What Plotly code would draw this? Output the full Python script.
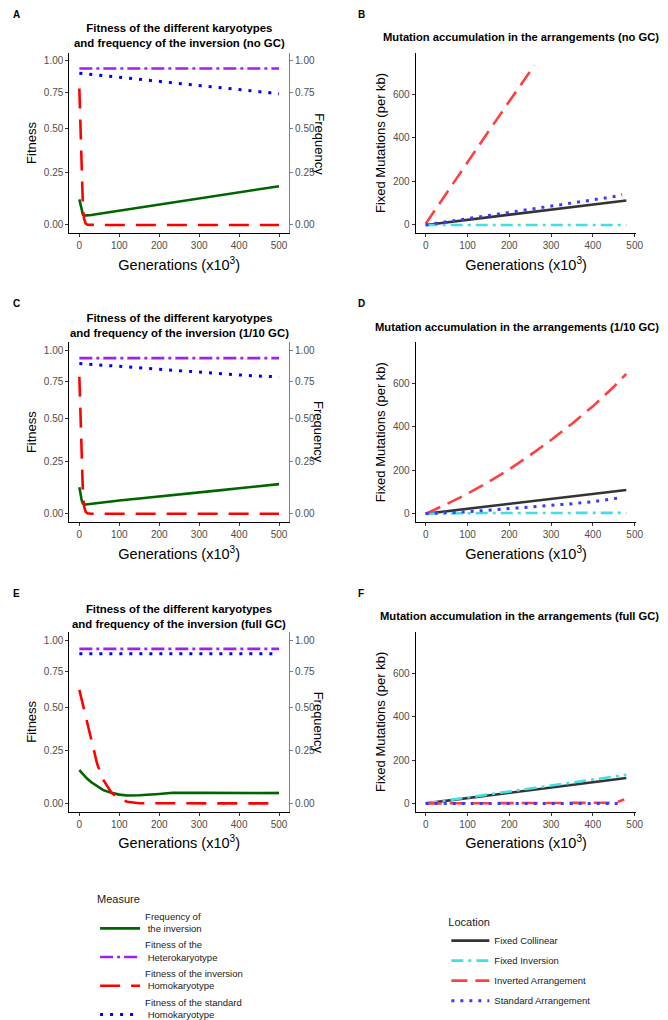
import numpy as np
import plotly.graph_objects as go

W, H = 668, 1020

# ---------------- data ----------------
# fitness panels (A, C, E) - generations in x10^3
gen_early = [0, 3, 6, 9, 12, 16, 20, 30, 50, 100, 150, 200, 250, 300, 350, 400, 450, 500]
gen_coarse = [0, 50, 100, 150, 200, 250, 300, 350, 400, 450, 500]

A_freq = [0.114, 0.085, 0.060, 0.045, 0.040, 0.040, 0.041, 0.043, 0.048, 0.062, 0.074, 0.088,
          0.102, 0.117, 0.132, 0.147, 0.162, 0.178]
A_inv = [0.78, 0.50, 0.22, 0.08, 0.025, 0.006, 0.001, 0, 0, 0, 0, 0, 0, 0, 0, 0, 0, 0]
A_het = [0.937] * 11
A_std = [0.899, 0.882, 0.866, 0.850, 0.834, 0.818, 0.802, 0.786, 0.771, 0.756, 0.741]

C_freq = [0.119, 0.085, 0.058, 0.044, 0.040, 0.040, 0.041, 0.043, 0.047, 0.058, 0.067, 0.0755,
          0.085, 0.095, 0.104, 0.114, 0.124, 0.134]
C_inv = [0.79, 0.52, 0.24, 0.09, 0.03, 0.008, 0.002, 0, 0, 0, 0, 0, 0, 0, 0, 0, 0, 0]
C_het = [0.937] * 11
C_std = [0.893, 0.881, 0.870, 0.858, 0.847, 0.836, 0.826, 0.815, 0.803, 0.795, 0.788]

gen_E = [0, 10, 20, 30, 45, 60, 80, 100, 120, 150, 200, 234, 300, 350, 400, 450, 500]
E_freq = [0.152, 0.130, 0.110, 0.094, 0.074, 0.058, 0.046, 0.038, 0.034, 0.035, 0.041, 0.046,
          0.046, 0.045, 0.044, 0.044, 0.045]
E_freq_se = [0.008, 0.006, 0.005, 0.005, 0.004, 0.004, 0.004, 0.004, 0.004, 0.004, 0.004, 0.004,
             0.004, 0.004, 0.005, 0.006, 0.008]
E_inv = [0.62, 0.51, 0.40, 0.30, 0.18, 0.105, 0.048, 0.02, 0.007, 0.001, 0, 0, 0, 0, 0, 0, 0]
E_het = [0.928] * 11
E_std = [0.888] * 11

# mutation panels (B, D, F)
gen_mut = [0, 50, 100, 150, 200, 250, 300, 350, 400, 450, 480]
gen_dot = [0, 50, 100, 150, 200, 250, 300, 350, 400, 450, 470]

B_col = [0, 11.6, 23.3, 35, 46.6, 58, 70, 81.5, 93, 105, 112]
B_fix = [0, 0, 0, 0, 0, 0, 0, 0, 0, 0, 0]
gen_inv_B = [0, 50, 100, 150, 200, 260]
B_inv = [5, 148, 288, 428, 567, 732]
B_std = [0, 14, 28, 43, 58, 72, 86, 100, 115, 130, 139]

D_col = [0, 11.4, 22.7, 34, 45.4, 56.8, 68, 79.5, 91, 102, 109]
D_fix = [0, 2, 3, 3, 3, 3.5, 4, 4, 4, 4, 4]
D_inv = [0, 44, 92, 146, 205, 270, 340, 415, 495, 585, 645]
D_std = [0, 4, 9, 16, 23, 30, 38, 46, 55, 67, 75]

F_col = [0, 12, 24, 36, 48.5, 61, 73, 85, 97, 110, 117]
F_fix = [0, 13.8, 27.5, 41, 55, 69, 82.5, 96, 110, 124, 132]
gen_inv_F = [0, 100, 200, 300, 400, 420, 440, 460, 475]
F_inv = [0, 0, 0, 0, 0, 1, 3, 8, 18]
F_std = [0] * 11

fit_ticks = [0, 0.25, 0.5, 0.75, 1.0]
fit_ticktext = ["0.00", "0.25", "0.50", "0.75", "1.00"]
gen_ticks = [0, 100, 200, 300, 400, 500]
mut_ticks = [0, 200, 400, 600]

measure_names = ["Frequency of<br>\u00a0the inversion", "Fitness of the<br>\u00a0Heterokaryotype",
                 "Fitness of the inversion<br>\u00a0Homokaryotype", "Fitness of the standard<br>\u00a0Homokaryotype"]
location_names = ["Fixed Collinear", "Fixed Inversion", "Inverted Arrangement", "Standard Arrangement"]

# ---------------- styling ----------------
FONT = "Liberation Sans, Arial, sans-serif"
m_style = [
    dict(color="#006400", width=2.6, dash="solid"),
    dict(color="#A020F0", width=2.6, dash="13px,4px,3px,4px"),
    dict(color="#FF0000", width=2.6, dash="20px,11px"),
    dict(color="#0000FF", width=3, dash="3px,7px"),
]
l_style = [
    dict(color="#333333", width=2.6, dash="solid"),
    dict(color="#40E0E6", width=2.6, dash="12px,5px,3px,5px"),
    dict(color="#FF4040", width=2.6, dash="16px,8px"),
    dict(color="#3A3AFF", width=3, dash="3px,6px"),
]


def t(v):
    # panels A, C, E use a log1p-transformed fitness / frequency axis
    return np.log1p(np.asarray(v, dtype=float))


fig = go.Figure()


def fit_panel(xa, ya, ya_right, freq, inv, het, std, gen_fast, show, se=None):
    if se is not None:
        lo = np.asarray(freq) - np.asarray(se)
        hi = np.asarray(freq) + np.asarray(se)
        fig.add_trace(go.Scatter(x=gen_fast, y=t(lo), mode="lines", line=dict(width=0),
                                 xaxis=xa, yaxis=ya, showlegend=False, hoverinfo="skip"))
        fig.add_trace(go.Scatter(x=gen_fast, y=t(hi), mode="lines", line=dict(width=0),
                                 fill="tonexty", fillcolor="rgba(160,160,160,0.45)",
                                 xaxis=xa, yaxis=ya, showlegend=False, hoverinfo="skip"))
    series = [(gen_fast, freq), (gen_coarse, het), (gen_fast, inv), (gen_coarse, std)]
    for i, (gx, vals) in enumerate(series):
        fig.add_trace(go.Scatter(x=gx, y=t(vals), mode="lines", name=measure_names[i],
                                 line=m_style[i], xaxis=xa, yaxis=ya,
                                 legend="legend", legendgroup="m%d" % i, showlegend=show))
    # frequency (secondary) axis shares the same scale; give it the frequency values so it draws
    fig.add_trace(go.Scatter(x=gen_fast, y=t(freq), mode="lines", line=dict(width=0),
                             opacity=0, xaxis=xa, yaxis=ya_right, showlegend=False,
                             hoverinfo="skip"))


def mut_panel(xa, ya, col, fix, inv, gen_inv, std, show):
    series = [(gen_mut, col), (gen_mut, fix), (gen_inv, inv), (gen_dot, std)]
    for i, (gx, vals) in enumerate(series):
        fig.add_trace(go.Scatter(x=gx, y=vals, mode="lines", name=location_names[i],
                                 line=l_style[i], xaxis=xa, yaxis=ya,
                                 legend="legend2", legendgroup="l%d" % i, showlegend=show))


fit_panel("x", "y", "y2", A_freq, A_inv, A_het, A_std, gen_early, True)
mut_panel("x2", "y3", B_col, B_fix, B_inv, gen_inv_B, B_std, True)
fit_panel("x3", "y4", "y5", C_freq, C_inv, C_het, C_std, gen_early, False)
mut_panel("x4", "y6", D_col, D_fix, D_inv, gen_mut, D_std, False)
fit_panel("x5", "y7", "y8", E_freq, E_inv, E_het, E_std, gen_E, False, se=E_freq_se)
mut_panel("x6", "y9", F_col, F_fix, F_inv, gen_inv_F, F_std, False)


# ---------------- layout ----------------
def xd(a, b):
    return [a / W, b / W]


def yd(top, bottom):
    return [1 - bottom / H, 1 - top / H]


tickfont = dict(family=FONT, size=10, color="#4d4d4d")
gen_title = dict(text="Generations (x10<sup>3</sup>)", font=dict(family=FONT, size=14.5, color="black"),
                 standoff=9)
rows = [(45, 227), (337, 518), (629, 810)]
fit_range = [-0.035, 0.728]
mut_range = [-38, 790]

layout = dict(width=W, height=H, margin=dict(l=0, r=0, t=0, b=0), autosize=False,
              paper_bgcolor="white", plot_bgcolor="white", font=dict(family=FONT, color="black"))

base_x = dict(showline=True, linecolor="black", linewidth=1.1, ticks="outside", ticklen=3,
              tickcolor="#333333", showgrid=False, zeroline=False, tickfont=tickfont,
              tickvals=gen_ticks, title=gen_title)
base_y = dict(showline=True, linecolor="black", linewidth=1.1, ticks="outside", ticklen=3,
              tickcolor="#333333", showgrid=False, zeroline=False, tickfont=tickfont)


def xn(i):
    return "xaxis" if i == 1 else "xaxis%d" % i


def yn(i):
    return "yaxis" if i == 1 else "yaxis%d" % i


def xr(i):
    return "x" if i == 1 else "x%d" % i


def yr(i):
    return "y" if i == 1 else "y%d" % i


for r, (top, bot) in enumerate(rows):
    xi_f, xi_m = 2 * r + 1, 2 * r + 2
    yi_f, yi_fr, yi_m = 3 * r + 1, 3 * r + 2, 3 * r + 3
    layout[xn(xi_f)] = dict(base_x, domain=xd(62, 284), anchor=yr(yi_f), range=[-25, 525])
    layout[xn(xi_m)] = dict(base_x, domain=xd(412, 635), anchor=yr(yi_m), range=[-24, 504])
    layout[yn(yi_f)] = dict(base_y, domain=yd(top, bot), anchor=xr(xi_f), range=fit_range,
                            tickvals=list(t(fit_ticks)), ticktext=fit_ticktext,
                            title=dict(text="Fitness", font=dict(family=FONT, size=13), standoff=4))
    layout[yn(yi_fr)] = dict(base_y, overlaying=yr(yi_f), side="right", anchor=xr(xi_f),
                             range=fit_range, tickvals=list(t(fit_ticks)), ticktext=fit_ticktext,
                             linecolor="#808080", tickcolor="#808080")
    layout[yn(yi_m)] = dict(base_y, domain=yd(top, bot), anchor=xr(xi_m), range=mut_range,
                            tickvals=mut_ticks,
                            title=dict(text="Fixed Mutations (per kb)", font=dict(family=FONT, size=13),
                                       standoff=4))

annotations = []
letters = ["A", "B", "C", "D", "E", "F"]
letter_pos = [(3, 7), (352, 7), (3, 298), (352, 298), (3, 590), (352, 590)]
for L, (px, py) in zip(letters, letter_pos):
    annotations.append(dict(text="<b>%s</b>" % L, x=px / W, y=1 - py / H, xref="paper", yref="paper",
                            xanchor="left", yanchor="middle", showarrow=False,
                            font=dict(family=FONT, size=10, color="black")))

gc = ["no GC", "1/10 GC", "full GC"]
fit_title_y = [28, 320, 613]
mut_title_y = [29, 322, 613]
freq_y = [137, 427, 720]
for r in range(3):
    annotations.append(dict(
        text="<b>Fitness of the different karyotypes<br>and frequency of the inversion (%s)</b>" % gc[r],
        x=173 / W, y=1 - fit_title_y[r] / H, xref="paper", yref="paper", xanchor="center",
        yanchor="middle", showarrow=False, font=dict(family=FONT, size=11.4, color="black")))
    annotations.append(dict(
        text="<b>Mutation accumulation in the arrangements (%s)</b>" % gc[r],
        x=660 / W, y=1 - mut_title_y[r] / H, xref="paper", yref="paper", xanchor="right",
        yanchor="middle", showarrow=False, font=dict(family=FONT, size=11.2, color="black")))
    annotations.append(dict(
        text="Frequency", x=314 / W, y=1 - freq_y[r] / H, xref="paper", yref="paper",
        xanchor="center", yanchor="middle", textangle=90, showarrow=False,
        font=dict(family=FONT, size=13, color="black")))

layout["annotations"] = annotations

layout["legend"] = dict(title=dict(text="Measure", font=dict(family=FONT, size=11)),
                        font=dict(family=FONT, size=9.5, color="#1a1a1a"),
                        x=88 / W, y=1 - 888 / H, xanchor="left", yanchor="top",
                        bgcolor="rgba(0,0,0,0)", itemwidth=40, valign="bottom",
                        tracegroupgap=1)
layout["legend2"] = dict(title=dict(text="Location", font=dict(family=FONT, size=11)),
                         font=dict(family=FONT, size=9.5, color="#1a1a1a"),
                         x=443 / W, y=1 - 911 / H, xanchor="left", yanchor="top",
                         bgcolor="rgba(0,0,0,0)", itemwidth=38, tracegroupgap=1)

fig.update_layout(layout)
fig.write_html("out.html")
